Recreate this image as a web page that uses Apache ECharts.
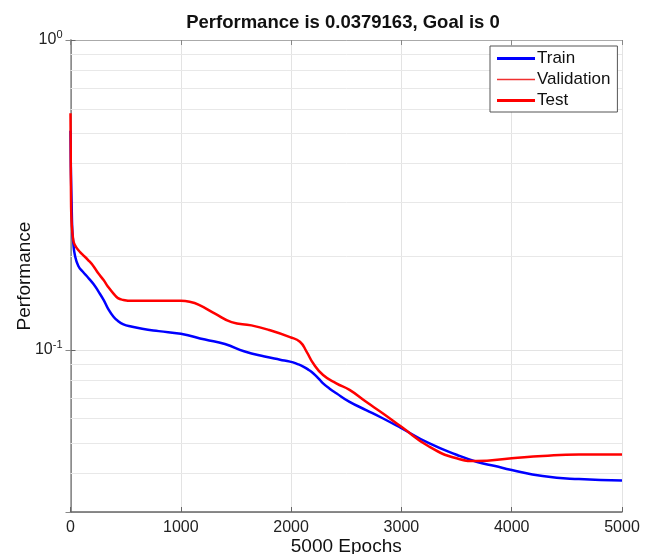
<!DOCTYPE html>
<html>
<head>
<meta charset="utf-8">
<script src="https://cdn.jsdelivr.net/npm/echarts@6/dist/echarts.min.js"></script>
<style>
	html, body { margin: 0; padding: 0; background: #fff; }
	#main { width: 652px; height: 554px; }
</style>
</head>
<body>
<div id="main"></div>
<script>
// epochs / performance
var trainEpochs = [0, 2, 5, 10, 16, 25, 40, 70, 110, 160, 210, 250, 300, 340, 390, 430, 480, 550, 650, 800, 1000, 1220, 1400, 1580, 1760, 1900, 1990, 2060, 2110, 2160, 2200, 2250, 2290, 2350, 2410, 2530, 2680, 2830, 3000, 3250, 3500, 3680, 3850, 4000, 4280, 4610, 5000];
var trainPerf = [0.51, 0.42, 0.36, 0.30, 0.245, 0.222, 0.202, 0.187, 0.179, 0.171, 0.163, 0.155, 0.145, 0.136, 0.128, 0.124, 0.121, 0.119, 0.117, 0.115, 0.1127, 0.108, 0.1045, 0.0988, 0.0952, 0.0930, 0.0917, 0.0900, 0.0884, 0.0862, 0.0841, 0.0808, 0.0780, 0.0750, 0.0725, 0.0680, 0.0640, 0.0602, 0.0559, 0.0500, 0.0459, 0.0436, 0.0422, 0.0410, 0.0392, 0.0383, 0.0379];

var testEpochs = [0, 2, 5, 10, 25, 40, 70, 110, 160, 210, 250, 300, 340, 390, 430, 480, 550, 800, 1000, 1080, 1160, 1310, 1460, 1640, 1800, 1990, 2080, 2140, 2200, 2290, 2410, 2530, 2680, 2830, 3000, 3250, 3500, 3680, 4000, 4280, 4610, 5000];
var testPerf = [0.58, 0.45, 0.30, 0.26, 0.226, 0.218, 0.210, 0.203, 0.195, 0.186, 0.177, 0.168, 0.160, 0.152, 0.147, 0.145, 0.144, 0.144, 0.144, 0.143, 0.140, 0.131, 0.123, 0.120, 0.116, 0.110, 0.1063, 0.0988, 0.0906, 0.083, 0.078, 0.0743, 0.068, 0.0625, 0.0565, 0.0488, 0.0447, 0.0438, 0.0447, 0.0455, 0.0460, 0.0460];

// validation curve is not drawn in the picture, only in the legend
var validEpochs = [];
var validPerf = [];

var minorGrid = [0.04, 0.05, 0.06, 0.07, 0.08, 0.09, 0.2, 0.3, 0.4, 0.5, 0.6, 0.7, 0.8, 0.9];

function zip(xs, ys) {
	var out = [];
	for (var i = 0; i < xs.length; i++) {
		out.push([xs[i], ys[i]]);
	}
	return out;
}

var font = 'Liberation Sans, Arial, Helvetica, sans-serif';
var validColor = '#f03030';
var myChart = echarts.init(document.getElementById('main'), null, { renderer: 'canvas' });

var option = {
	animation: false,
	backgroundColor: '#fff',
	title: {
		text: 'Performance is 0.0379163, Goal is 0',
		left: 338,
		top: 8,
		textAlign: 'center',
		textStyle: { fontFamily: font, fontSize: 18.5, fontWeight: 'bold', color: '#111' }
	},
	legend: {
		orient: 'vertical',
		left: 490,
		top: 46,
		padding: [4, 7, 3, 7],
		itemWidth: 38,
		itemHeight: 14,
		itemGap: 4,
		symbolKeepAspect: true,
		backgroundColor: '#fff',
		borderColor: '#555',
		borderWidth: 1,
		borderRadius: 0,
		textStyle: { fontFamily: font, fontSize: 17, color: '#111', padding: [0, 0, 0, -3] },
		data: [
			{ name: 'Train', icon: 'path://M0,0L38,0L38,3L0,3Z', itemStyle: { color: '#0000ff' } },
			{
				name: 'Validation',
				icon: 'path://M0,0L38,0L38,1.6L0,1.6Z',
				itemStyle: { color: validColor, borderWidth: 0 }
			},
			{ name: 'Test', icon: 'path://M0,0L38,0L38,3L0,3Z', itemStyle: { color: '#ff0000' } }
		]
	},
	grid: {
		left: 70.5,
		right: 30,
		top: 40,
		bottom: 42,
		containLabel: false,
		outerBoundsMode: 'none'
	},
	xAxis: [{
		type: 'value',
		min: 0,
		max: 5000,
		interval: 1000,
		name: '5000 Epochs',
		nameLocation: 'middle',
		nameGap: 25,
		nameMoveOverlap: false,
		nameTextStyle: { fontFamily: font, fontSize: 19, color: '#111' },
		axisLine: { show: true, lineStyle: { color: '#666', width: 1.5 } },
		axisTick: { show: true, inside: true, length: 5, lineStyle: { color: '#666' } },
		axisLabel: {
			fontFamily: font,
			fontSize: 16,
			color: '#222',
			margin: 8,
			formatter: function (v) { return String(v); }
		},
		splitLine: { show: true, lineStyle: { color: '#e3e3e3', width: 1 } }
	}, {
		type: 'value',
		position: 'top',
		min: 0,
		max: 5000,
		interval: 1000,
		axisLine: { show: true, lineStyle: { color: '#aaa', width: 1 } },
		axisTick: { show: true, inside: true, length: 5, lineStyle: { color: '#888' } },
		axisLabel: { show: false },
		splitLine: { show: false }
	}],
	yAxis: [{
		type: 'log',
		logBase: 10,
		min: 0.03,
		max: 1,
		name: 'Performance',
		nameLocation: 'middle',
		nameGap: 36,
		nameMoveOverlap: false,
		nameTextStyle: { fontFamily: font, fontSize: 19, color: '#111' },
		axisLine: { show: true, lineStyle: { color: '#666', width: 1.5 } },
		axisTick: { show: true, inside: true, length: 5, lineStyle: { color: '#666' } },
		axisLabel: {
			margin: 8,
			showMinLabel: false,
			formatter: function (v) {
				var e = Math.log(v) / Math.LN10;
				if (Math.abs(e - Math.round(e)) > 1e-6) {
					return '';
				}
				return '{b|10}{s|' + Math.round(e) + '}';
			},
			rich: {
				b: { fontFamily: font, fontSize: 16, color: '#222' },
				s: { fontFamily: font, fontSize: 11, color: '#222', padding: [0, 0, 10, 0] }
			}
		},
		splitLine: { show: true, lineStyle: { color: '#e3e3e3', width: 1 } }
	}, {
		type: 'log',
		logBase: 10,
		min: 0.03,
		max: 1,
		position: 'right',
		axisLine: { show: true, lineStyle: { color: '#aaa', width: 1 } },
		axisTick: { show: true, inside: true, length: 5, lineStyle: { color: '#888' } },
		axisLabel: { show: false },
		splitLine: { show: false }
	}],
	series: [{
		name: 'Train',
		type: 'line',
		symbol: 'none',
		smooth: 0.5,
		color: '#0000ff',
		lineStyle: { color: '#0000ff', width: 2.5 },
		data: zip(trainEpochs, trainPerf),
		z: 3,
		markLine: {
			silent: true,
			symbol: 'none',
			label: { show: false },
			lineStyle: { color: '#e8e8e8', width: 1, type: 'solid' },
			data: minorGrid.map(function (v) { return { yAxis: v }; }),
			z: 1
		}
	}, {
		name: 'Validation',
		type: 'line',
		symbol: 'none',
		color: validColor,
		itemStyle: { color: validColor },
		lineStyle: { color: validColor, width: 1 },
		data: zip(validEpochs, validPerf)
	}, {
		name: 'Test',
		type: 'line',
		symbol: 'none',
		smooth: 0.5,
		color: '#ff0000',
		lineStyle: { color: '#ff0000', width: 2.5 },
		data: zip(testEpochs, testPerf),
		z: 4
	}]
};

myChart.setOption(option);
window.addEventListener('resize', function () {
	myChart.resize();
});
</script>
</body>
</html>
